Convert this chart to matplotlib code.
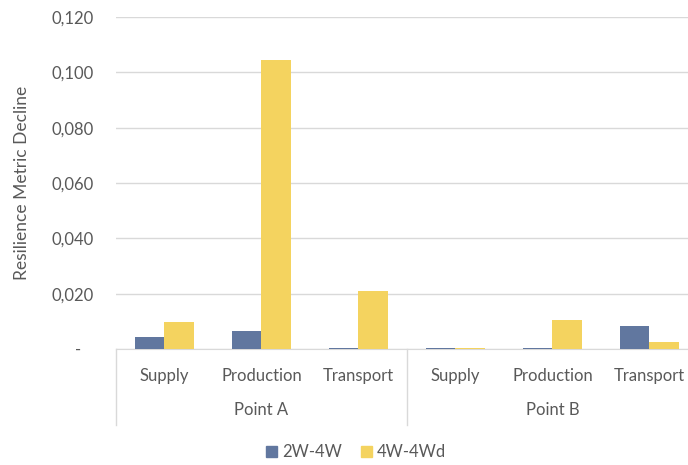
import numpy as np
import matplotlib.pyplot as plt
from matplotlib.patches import Patch
from matplotlib.ticker import FuncFormatter

plt.rcParams['font.family'] = ['Lato', 'DejaVu Sans']

# Data
groups = ['Point A', 'Point B']
stages = ['Supply', 'Production', 'Transport']
series_2w_4w = [0.0043, 0.0065, 0.0003, 0.0003, 0.0002, 0.0083]
series_4w_4wd = [0.0098, 0.1045, 0.0210, 0.0002, 0.0105, 0.0025]
labels = ['2W-4W', '4W-4Wd']

blue = '#61779F'
yellow = '#F4D35F'
grey_text = '#595959'
grid_col = '#D9D9D9'
fs = 12

fig = plt.figure(figsize=(6.88, 4.65), dpi=100)
ax = fig.add_axes([0.1686, 0.2495, 0.8459, 0.7139])

n = len(series_2w_4w)
x = np.arange(n)
w = 0.3
ax.bar(x - w / 2, series_2w_4w, width=w, color=blue, zorder=3)
ax.bar(x + w / 2, series_4w_4wd, width=w, color=yellow, zorder=3)

ax.set_xlim(-0.5, n - 0.5)
ax.set_ylim(0, 0.12)
ax.set_yticks(np.arange(0, 0.121, 0.02))
ax.yaxis.set_major_formatter(FuncFormatter(
    lambda v, p: '-   ' if abs(v) < 1e-9 else f'{v:.3f}'.replace('.', ',')))
ax.tick_params(axis='y', length=0, pad=16, labelsize=fs, labelcolor=grey_text)
ax.set_xticks([])
ax.grid(axis='y', color=grid_col, linewidth=1, zorder=0)
for s in ['top', 'right', 'left']:
    ax.spines[s].set_visible(False)
ax.spines['bottom'].set_color(grid_col)

# two-level category axis
trans = ax.get_xaxis_transform()
for i in range(n):
    ax.text(x[i], -0.081, stages[i % 3], transform=trans, ha='center', va='center',
            fontsize=fs, color=grey_text)
for g, name in enumerate(groups):
    ax.text(g * 3 + 1, -0.184, name, transform=trans, ha='center', va='center',
            fontsize=fs, color=grey_text)
for xb in [-0.5, 2.5, 5.5]:
    ax.plot([xb, xb], [0, -0.23], transform=trans, color=grid_col, linewidth=1,
            clip_on=False)

fig.text(22 / 688, 1 - 183 / 465, 'Resilience Metric Decline', rotation=90,
         ha='center', va='center', fontsize=12.5, color=grey_text)

handles = [Patch(color=blue, label=labels[0]), Patch(color=yellow, label=labels[1])]
fig.legend(handles=handles, loc='center', bbox_to_anchor=(356 / 688, 1 - 452 / 465),
           ncol=2, frameon=False, fontsize=fs, labelcolor=grey_text,
           handlelength=0.66, handleheight=0.66, handletextpad=0.3, columnspacing=1.1)

fig.savefig('out.png', dpi=100)
plt.close()
